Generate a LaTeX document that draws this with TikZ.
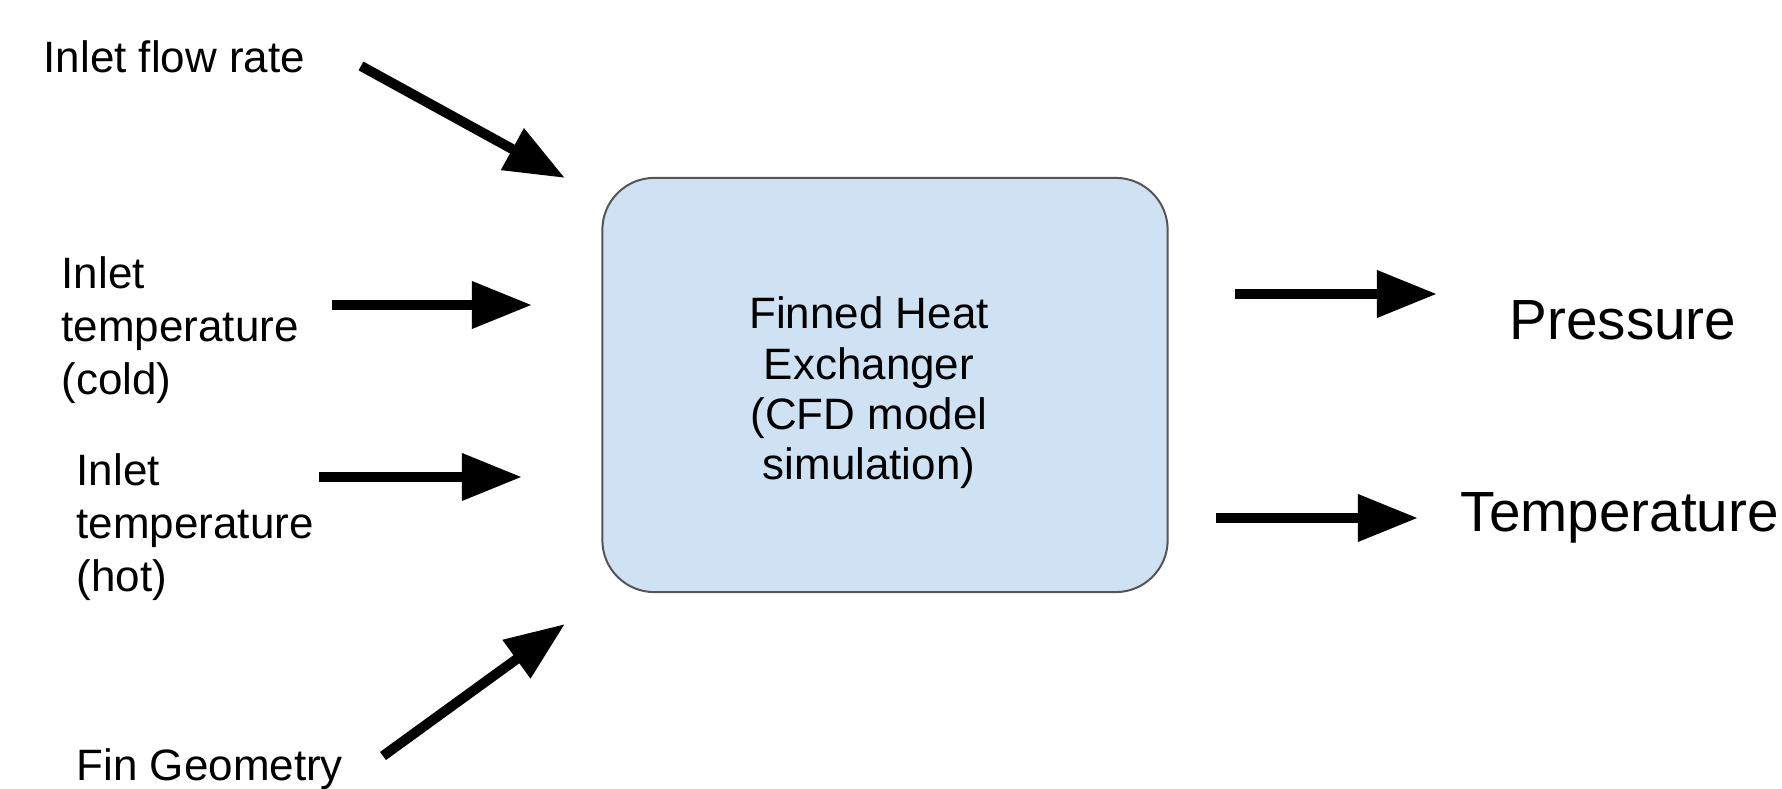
\documentclass[tikz,border=0pt]{standalone}
\usepackage{fontspec}
\setmainfont{Liberation Sans}
\usetikzlibrary{arrows.meta}
\usetikzlibrary{calc}
\definecolor{boxblue}{RGB}{207,226,243}
\definecolor{boxline}{RGB}{85,85,85}

\begin{document}
\begin{tikzpicture}[x=0.01cm, y=-0.01cm,
  lbl/.style={anchor=west, align=left, inner sep=0, font=\fontsize{12.5}{15.1}\selectfont},
  outlbl/.style={anchor=west, inner sep=0, font=\fontsize{16.1}{18}\selectfont},
  feed/.style={black, line width=0.1cm, -{Triangle[length=0.6cm, width=0.45cm]}}]
\useasboundingbox (0,0) rectangle (1782,789);

% the model block
\node[draw=boxline, line width=0.02cm, fill=boxblue, rounded corners=0.52cm,
      minimum width=5.65cm, minimum height=4.14cm, inner sep=0] (hx) at (885,385) {};
\node[align=center, inner sep=0, font=\fontsize{12.5}{14.3}\selectfont] (hxtxt) at (869,393)
  {Finned Heat\\Exchanger\\(CFD model\\simulation)};

% inputs
\node[lbl] (inflow) at (43,57) {Inlet flow rate};
\node[lbl] (tcold) at (61,330) {Inlet\\temperature\\(cold)};
\node[lbl] (thot) at (76,527) {Inlet\\temperature\\(hot)};
\node[lbl] (fingeo) at (76,769) {Fin Geometry};

% outputs
\node[outlbl] (press) at (1509,320) {Pressure};
\node[outlbl] (temp) at (1460,518) {Temperature};

% arrow ends
\coordinate (inflowS) at (361,66);   \coordinate (inflowE) at (565,178);
\coordinate (tcoldS) at (332,305);   \coordinate (tcoldE) at (532,305);
\coordinate (thotS) at (319,477);    \coordinate (thotE) at (522,477);
\coordinate (fingeoS) at (383,756);  \coordinate (fingeoE) at (565,624);
\coordinate (pressS) at (1235,294);  \coordinate (pressE) at (1437,294);
\coordinate (tempS) at (1216,518);   \coordinate (tempE) at (1418,518);

\foreach \n in {inflow, tcold, thot, fingeo, press, temp} {
 \draw[feed] (\n S) -- (\n E);
}
\end{tikzpicture}
\end{document}
